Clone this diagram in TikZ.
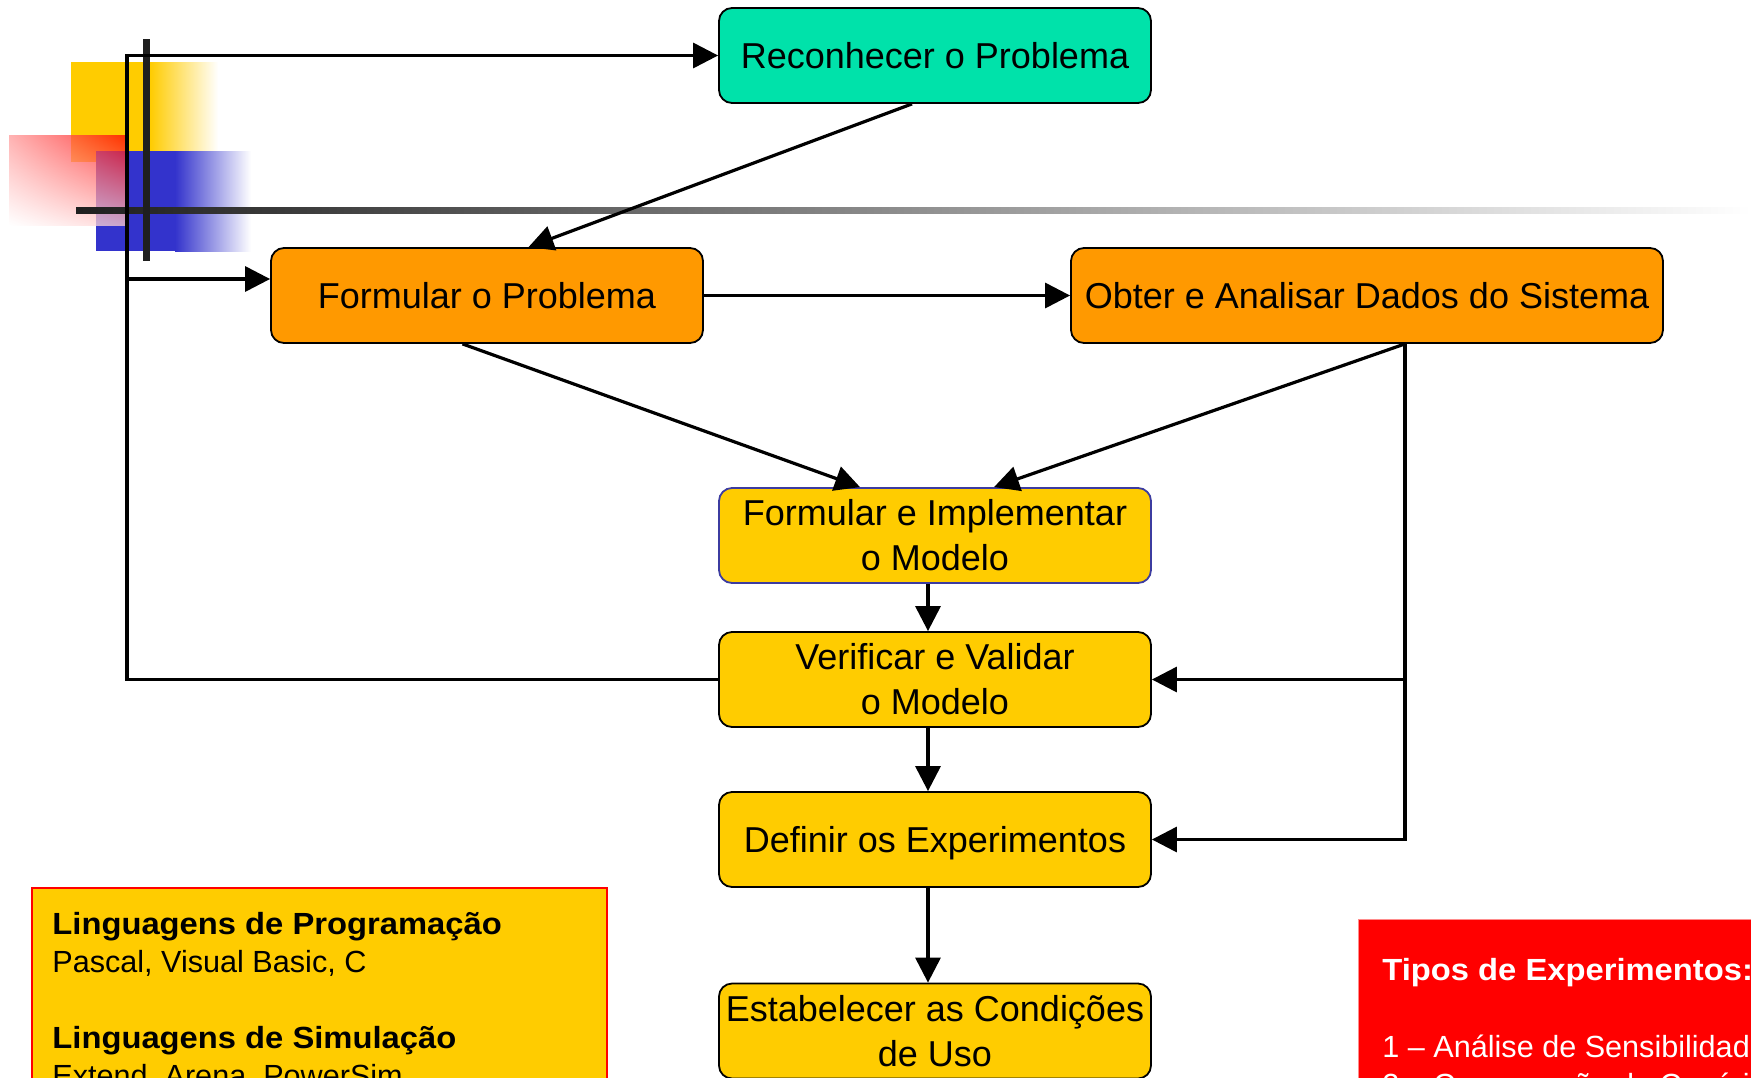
\documentclass[tikz,border=0pt]{standalone}
\usepackage{fontspec}
\setmainfont{Liberation Sans}[BoldFeatures={FakeStretch=1.07}]
\usetikzlibrary{arrows.meta,calc,shadings}
\definecolor{teal1}{RGB}{0,226,170}
\definecolor{orng}{RGB}{255,153,0}
\definecolor{yel}{RGB}{255,204,0}
\definecolor{blu}{RGB}{51,51,204}
\definecolor{fiborder}{RGB}{60,60,160}
\tikzset{
 box/.style={draw=black, line width=0.9pt, rounded corners=6.5pt, minimum width=216pt, minimum height=47.5pt, inner sep=0pt, font=\fontsize{18pt}{22.5pt}\selectfont, align=center},
 one/.style={text height=13pt, text depth=0pt},
 conn/.style={line width=1.6pt},
 arr/.style={conn, -{Triangle[length=12.5pt,width=12.5pt]}},
 small/.style={font=\fontsize{15.3pt}{19pt}\selectfont, inner sep=0pt, anchor=base west},
}
\begin{document}
\begin{tikzpicture}[x=0.5pt,y=-0.5pt]
\useasboundingbox (0,0) rectangle (1751,1077);
\clip (0,0) rectangle (1751,1077);
% decorations
\fill[yel] (71,62) rectangle (151,162);
\shade[left color=yel, right color=white] (150,62) rectangle (218,151);
\fill[blu] (96,151) rectangle (176,251);
\shade[left color=blu, right color=white] (175,151) rectangle (251,251);
\shade[upper right=red, upper left=red!40, lower left=white, lower right=red!20, fill opacity=0.75, opacity=0.75] (9,135) rectangle (125,225);
\shade[left color=black!88, middle color=black!38, right color=white] (76,207) rectangle (1751,213);
\fill[black!88] (143,39) rectangle (150,261);
% boxes
\node[box, one, fill=teal1] (rec) at (935,55.5) {Reconhecer o Problema};
\node[box, one, fill=orng] (fop) at (487,295.5) {Formular o Problema};
\node[box, one, fill=orng, minimum width=296pt] (obt) at (1367,295.5) {Obter e Analisar Dados do Sistema};
\node[box, fill=yel, draw=fiborder] (fim) at (935,535.5) {Formular e Implementar\\o Modelo};
\node[box, fill=yel] (ver) at (935,679.5) {Verificar e Validar\\o Modelo};
\node[box, one, fill=yel] (def) at (935,839.5) {Definir os Experimentos};
\node[box, fill=yel] (est) at (935,1031) {Estabelecer as Condições\\de Uso};
% connectors
\draw[arr] ([xshift=-11.5pt]rec.south) -- ([xshift=20.75pt]fop.north);
\draw[arr] (fop.east) -- (obt.west);
\draw[arr] ([xshift=-12.25pt]fop.south) -- ([xshift=-37.5pt]fim.north);
\coordinate (ob) at ([xshift=19pt]obt.south);
\draw[arr] (ob) -- ([xshift=29.5pt]fim.north);
\draw[arr] (ob) |- (def.east);
\draw[arr] (ob |- ver.east) -- (ver.east);
\draw[arr] ([xshift=-3.5pt]fim.south) -- ([xshift=-3.5pt]ver.north);
\draw[arr] ([xshift=-3.5pt]ver.south) -- ([xshift=-3.5pt]def.north);
\draw[arr] ([xshift=-3.5pt]def.south) -- ([xshift=-3.5pt]est.north);
\coordinate (L) at (127,55.5);
\draw[arr] (ver.west) -| (L) -- (rec.west);
\coordinate (Lb) at (127,279);
\draw[arr] (Lb) -- (Lb -| fop.west);
% left info box
\node[draw=red, line width=0.8pt, fill=yel, minimum width=287.5pt, minimum height=125pt, anchor=north west, inner sep=0pt] (lbox) at (31,887) {};
\node[small] (l1) at (52,934) {\textbf{Linguagens de Programação}};
\node[small] (l2) at (52,972) {Pascal, Visual Basic, C};
\node[small] (l3) at (52,1048) {\textbf{Linguagens de Simulação}};
\node[small] (l4) at (52,1086) {Extend, Arena, PowerSim};
% right info box
\node[draw=red!45, line width=0.6pt, fill=red, minimum width=250pt, minimum height=125pt, anchor=north west, inner sep=0pt] (rbox) at (1358,919) {};
\node[small, text=white] (r1) at (1382,980) {\textbf{Tipos de Experimentos:}};
\node[small, text=white] (r2) at (1382,1057) {1 – Análise de Sensibilidade};
\node[small, text=white] (r3) at (1382,1095) {2 – Comparação de Cenários};
\end{tikzpicture}
\end{document}
